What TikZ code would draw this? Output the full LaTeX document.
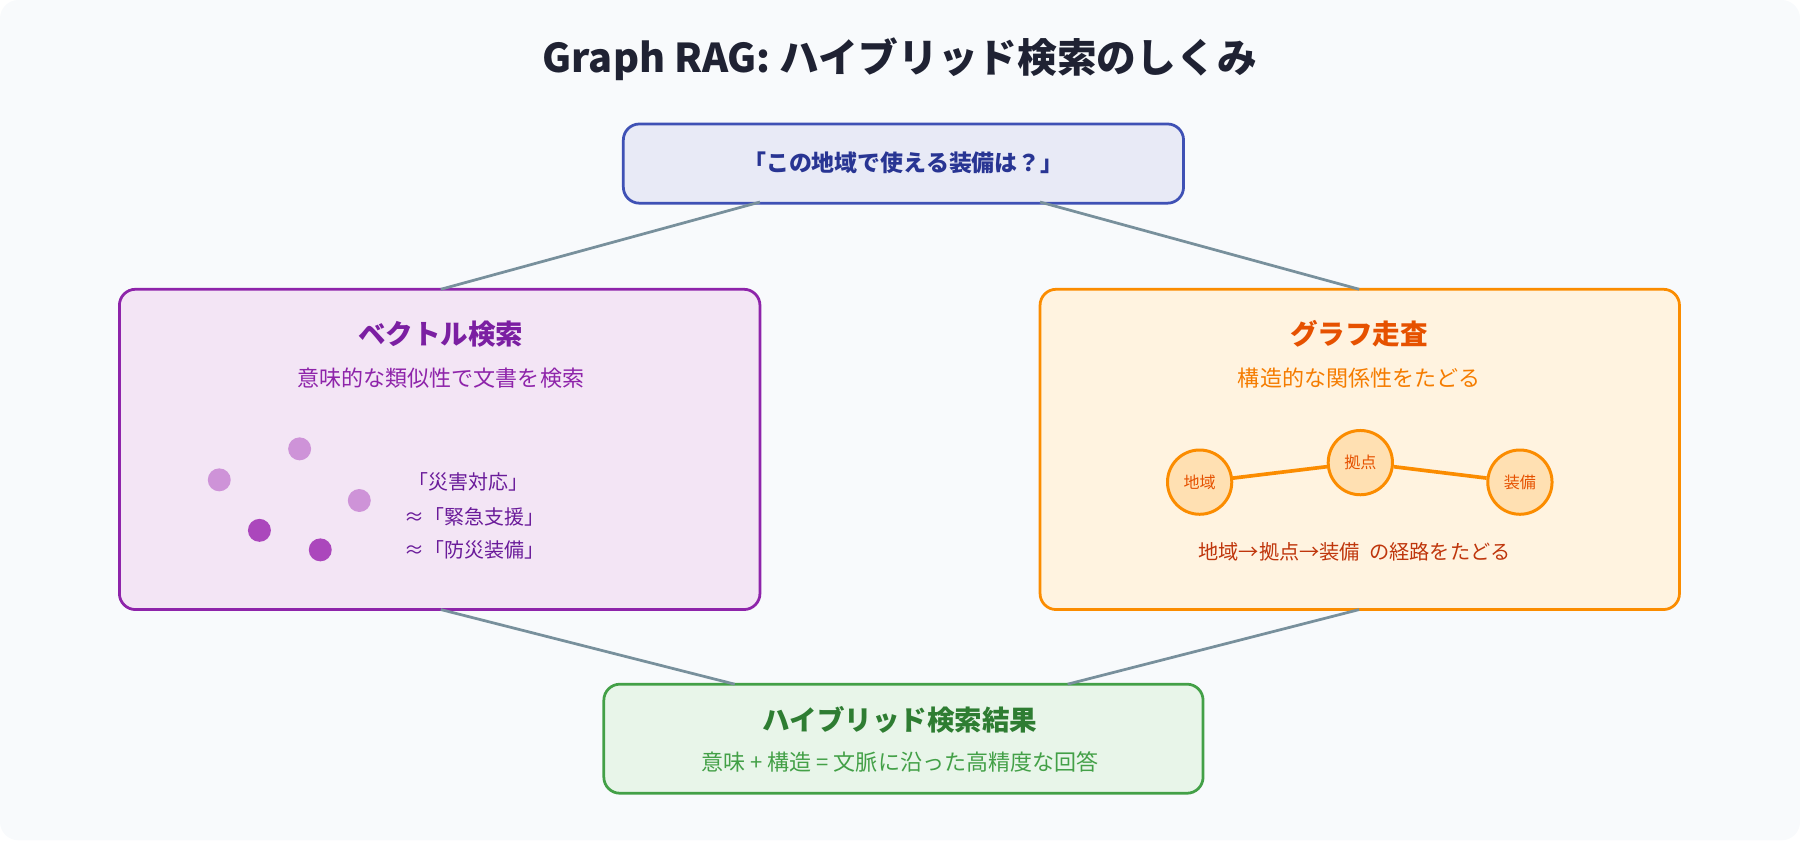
\documentclass[tikz,border=0pt]{standalone}
\usepackage{fontspec}
\setmainfont{Noto Sans CJK JP}
\begin{document}
\begin{tikzpicture}[x=0.5pt,y=-0.5pt,
  box/.style={draw, line width=1.2pt, rounded corners=7pt},
  link/.style={draw=lgray, line width=1.2pt},
  gnode/.style={circle, draw=gor, fill=gfill, line width=1.3pt, minimum size=28pt, inner sep=0pt, text=gdark, font=\fontsize{7}{8}\selectfont},
  dotl/.style={circle, fill=plight, minimum size=10pt, inner sep=0pt},
  dotd/.style={circle, fill=pdark, minimum size=10pt, inner sep=0pt}]
\definecolor{bg}{HTML}{F8FAFC}
\definecolor{lgray}{HTML}{78909C}
\definecolor{gor}{HTML}{FB8C00}
\definecolor{gfill}{HTML}{FFE0B2}
\definecolor{gdark}{HTML}{E65100}
\definecolor{plight}{HTML}{CE93D8}
\definecolor{pdark}{HTML}{AB47BC}
\definecolor{ttl}{HTML}{1F2233}
\useasboundingbox (0,0) rectangle (1568,732);
\fill[bg, rounded corners=8pt] (0,0) rectangle (1568,732);
\node[font=\bfseries\fontsize{17.3}{20}\selectfont, text=ttl] (title) at (784,52) {Graph RAG: ハイブリッド検索のしくみ};
% boxes
\draw[box, draw={rgb,255:red,63;green,81;blue,181}, fill={rgb,255:red,232;green,234;blue,246}] (543,108) rectangle (1031,177);
\node[font=\bfseries\fontsize{10}{12}\selectfont, text={rgb,255:red,40;green,53;blue,147}] (qt) at (787,142) {「この地域で使える装備は？」};
\coordinate (qa) at (662,176); \coordinate (qb) at (906,176);
\draw[box, draw={rgb,255:red,142;green,36;blue,170}, fill={rgb,255:red,243;green,229;blue,245}] (104,252) rectangle (662,531);
\coordinate (va) at (384,252); \coordinate (vb) at (384,531);
\draw[box, draw=gor, fill={rgb,255:red,255;green,243;blue,224}] (906,252) rectangle (1463,531);
\coordinate (ga) at (1184,252); \coordinate (gb) at (1184,531);
\draw[box, draw={rgb,255:red,67;green,160;blue,71}, fill={rgb,255:red,232;green,245;blue,233}] (526,596) rectangle (1048,691);
\coordinate (ra) at (640,596); \coordinate (rb) at (930,596);
\draw[link] (qa) -- (va); \draw[link] (qb) -- (ga);
\draw[link] (vb) -- (ra); \draw[link] (gb) -- (rb);
% vector
\node[font=\bfseries\fontsize{12}{14}\selectfont, text={rgb,255:red,123;green,31;blue,162}] (vt) at (384,291) {ベクトル検索};
\node[font=\fontsize{9.6}{11}\selectfont, text={rgb,255:red,142;green,36;blue,170}] (vs) at (384,329) {意味的な類似性で文書を検索};
\node[dotl] (d1) at (261,391) {}; \node[dotl] (d2) at (191,418) {}; \node[dotl] (d3) at (313,436) {};
\node[dotd] (d4) at (226,462) {}; \node[dotd] (d5) at (279,479) {};
\begin{scope}[font=\fontsize{8.7}{10}\selectfont, text={rgb,255:red,106;green,27;blue,154}]
\node[anchor=west] (s1) at (349,420) {「災害対応」};
\node[anchor=west] (s2) at (345,450) {≈「緊急支援」};
\node[anchor=west] (s3) at (345,479) {≈「防災装備」};
\end{scope}
% graph
\node[font=\bfseries\fontsize{12}{14}\selectfont, text=gdark] (gt) at (1184,291) {グラフ走査};
\node[font=\fontsize{9.6}{11}\selectfont, text={rgb,255:red,245;green,124;blue,0}] (gs) at (1184,329) {構造的な関係性をたどる};
\node[gnode] (n1) at (1045,420) {地域};
\node[gnode] (n2) at (1185,403) {拠点};
\node[gnode] (n3) at (1324,420) {装備};
\draw[gor, line width=1.6pt] (n1) -- (n2) -- (n3);
\node[font=\fontsize{8.8}{10}\selectfont, text={rgb,255:red,191;green,54;blue,12}] (gp) at (1180,481) {地域→拠点→装備\ \ の経路をたどる};
% result
\node[font=\bfseries\fontsize{12}{14}\selectfont, text={rgb,255:red,46;green,125;blue,50}] (rt) at (784,627) {ハイブリッド検索結果};
\node[font=\fontsize{9.6}{11}\selectfont, text={rgb,255:red,67;green,160;blue,71}] (rs) at (784,664) {意味 + 構造 = 文脈に沿った高精度な回答};
\end{tikzpicture}
\end{document}
